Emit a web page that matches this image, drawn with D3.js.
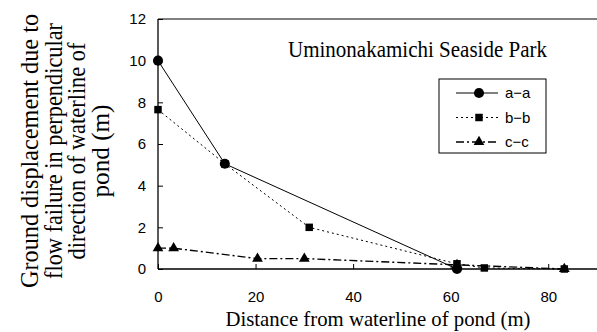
<!DOCTYPE html>
<html>
<head>
<meta charset="utf-8">
<script src="https://cdn.jsdelivr.net/npm/d3@7"></script>
<style>
  body { margin: 0; background: #fff; }
  svg { display: block; }
</style>
</head>
<body>
<svg id="chart" width="597" height="332"></svg>
<script>
// series values: [distance, displacement]
const series_a = [[0, 10], [13.7, 5.05], [61.3, 0]];
const series_b = [[0, 7.65], [13.7, 5.05], [31, 2.0], [61.3, 0.25], [66.9, 0.05], [83.3, 0]];
const series_c = [[0, 1.0], [3.2, 1.0], [20.4, 0.5], [30, 0.5], [61.3, 0.2], [83.3, 0]];
const series_names = ["a\u2212a", "b\u2212b", "c\u2212c"];
const x_ticks = [0, 20, 40, 60, 80];
const y_ticks = [0, 2, 4, 6, 8, 10, 12];
const title = "Uminonakamichi Seaside Park";
const x_title = "Distance from waterline of pond (m)";
const y_title = ["Ground displacement due to", "flow failure in perpendicular", "direction of waterline of", "pond (m)"];
const y_title_len = [274, 256, 217, 93];

const width = 597, height = 332;
const margin = {left: 158, right: 0, top: 19, bottom: 63};
const innerWidth = width - margin.left - margin.right;
const innerHeight = height - margin.top - margin.bottom;
const sans = "'Liberation Sans', Arial, sans-serif";
const serif = "'Liberation Serif', 'Times New Roman', serif";

const svg = d3.select("#chart");
const g = svg.append("g")
             .attr("transform", `translate(${margin.left}, ${margin.top})`);

const xScale = d3.scaleLinear().domain([0, 90]).range([0, innerWidth]);
const yScale = d3.scaleLinear().domain([0, 12]).range([innerHeight, 0]);

// top border
g.append("line")
 .attr("x1", 0).attr("x2", innerWidth)
 .attr("y1", 0).attr("y2", 0)
 .attr("stroke", "#000").attr("stroke-width", 1);

const xAxis = d3.axisBottom(xScale).tickValues(x_ticks).tickSize(-5).tickPadding(22).tickFormat(d3.format("d"));
const yAxis = d3.axisLeft(yScale).tickValues(y_ticks).tickSize(-5).tickPadding(12).tickFormat(d3.format("d"));

const gx = g.append("g")
            .attr("transform", `translate(0, ${innerHeight})`)
            .call(xAxis);
const gy = g.append("g").call(yAxis);

[gx, gy].forEach(a => {
    a.attr("font-size", 15).attr("font-family", sans);
    a.select(".domain").attr("stroke", "#000").attr("stroke-width", 1.3);
    a.selectAll(".tick line").attr("stroke", "#000");
    a.selectAll(".tick text").attr("fill", "#000");
});
gx.select(".domain").attr("d", `M0,0H${innerWidth}`);
gy.select(".domain").attr("d", `M0,${innerHeight}V0`);

const line = d3.line().x(d => xScale(d[0])).y(d => yScale(d[1]));
const styles = [
    {data: series_a, dash: null, marker: "circle"},
    {data: series_b, dash: "2,3", marker: "square"},
    {data: series_c, dash: "8,3,2,3", marker: "triangle"}
];

const symbolFor = m => m === "circle" ? d3.symbol(d3.symbolCircle, 80)
                     : m === "square" ? d3.symbol(d3.symbolSquare, 56)
                     : d3.symbol(d3.symbolTriangle, 50);

styles.forEach(s => {
    g.append("path")
     .datum(s.data)
     .attr("d", line)
     .attr("fill", "none")
     .attr("stroke", "#000")
     .attr("stroke-width", s.marker === "triangle" ? 1.4 : 1)
     .attr("stroke-dasharray", s.dash);
    g.selectAll(null)
     .data(s.data)
     .enter()
     .append("path")
     .attr("transform", d => `translate(${xScale(d[0])}, ${yScale(d[1])})`)
     .attr("d", symbolFor(s.marker)())
     .attr("fill", "#000");
});

// title inside plot
svg.append("text")
   .attr("x", 288).attr("y", 57)
   .attr("font-family", serif).attr("font-size", 24)
   .attr("textLength", 259).attr("lengthAdjust", "spacingAndGlyphs")
   .attr("fill", "#000")
   .text(title);

// legend
const legend = svg.append("g").attr("transform", "translate(439, 79)");
legend.append("rect")
      .attr("width", 107).attr("height", 74)
      .attr("fill", "#fff").attr("stroke", "#000").attr("stroke-width", 1);
styles.forEach((s, i) => {
    const yy = 14 + i * 24.5;
    legend.append("line")
          .attr("x1", 17).attr("x2", 59).attr("y1", yy).attr("y2", yy)
          .attr("stroke", "#000")
          .attr("stroke-width", s.marker === "triangle" ? 1.4 : 1)
          .attr("stroke-dasharray", s.dash);
    legend.append("path")
          .attr("transform", `translate(40, ${yy})`)
          .attr("d", symbolFor(s.marker)())
          .attr("fill", "#000");
    legend.append("text")
          .attr("x", 66).attr("y", yy + 5)
          .attr("font-family", sans).attr("font-size", 15)
          .attr("fill", "#000")
          .text(series_names[i]);
});

// axis titles
svg.append("text")
   .attr("x", 378).attr("y", 326)
   .attr("text-anchor", "middle")
   .attr("font-family", serif).attr("font-size", 22)
   .attr("textLength", 305).attr("lengthAdjust", "spacingAndGlyphs")
   .attr("fill", "#000")
   .text(x_title);

// rotated y title, one text per line
y_title.forEach((t, i) => {
    svg.append("text")
       .attr("transform", `translate(${38 + i * 23.5}, 151) rotate(-90)`)
       .attr("text-anchor", "middle")
       .attr("font-family", serif).attr("font-size", 26)
       .attr("textLength", y_title_len[i]).attr("lengthAdjust", "spacingAndGlyphs")
       .attr("fill", "#000")
       .text(t);
});
</script>
</body>
</html>
